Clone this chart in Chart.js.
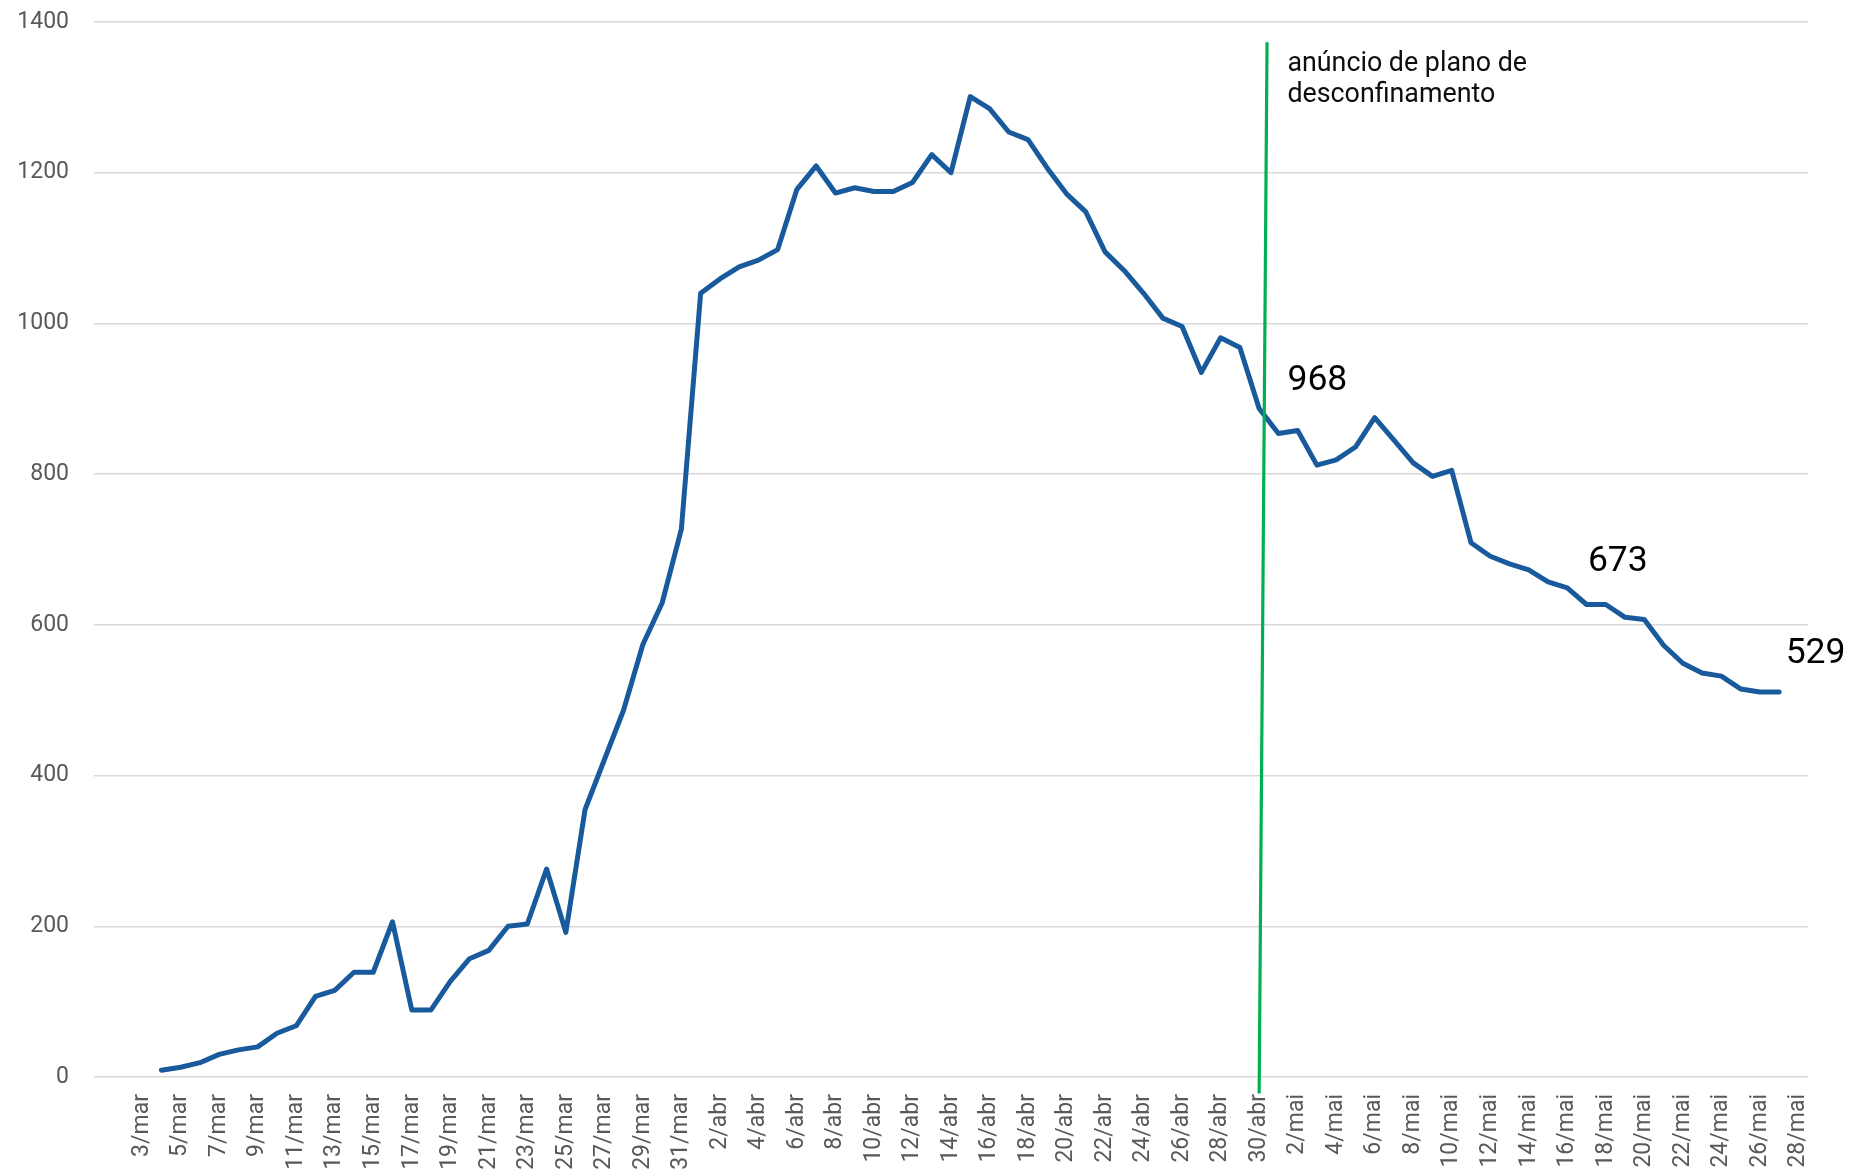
<!DOCTYPE html>
<html>
<head>
<meta charset="utf-8">
<script src="https://cdn.jsdelivr.net/npm/chart.js@4/dist/chart.umd.min.js"></script>
<style>
  html, body { margin: 0; padding: 0; background: #ffffff; }
  canvas { display: block; }
</style>
</head>
<body>
<canvas id="c" width="1855" height="1174"></canvas>
<script>
// Categories: one per day, 1/mar .. 28/mai
const dates = [
  '1/mar','2/mar','3/mar','4/mar','5/mar','6/mar','7/mar','8/mar','9/mar','10/mar',
  '11/mar','12/mar','13/mar','14/mar','15/mar','16/mar','17/mar','18/mar','19/mar','20/mar',
  '21/mar','22/mar','23/mar','24/mar','25/mar','26/mar','27/mar','28/mar','29/mar','30/mar','31/mar',
  '1/abr','2/abr','3/abr','4/abr','5/abr','6/abr','7/abr','8/abr','9/abr','10/abr',
  '11/abr','12/abr','13/abr','14/abr','15/abr','16/abr','17/abr','18/abr','19/abr','20/abr',
  '21/abr','22/abr','23/abr','24/abr','25/abr','26/abr','27/abr','28/abr','29/abr','30/abr',
  '1/mai','2/mai','3/mai','4/mai','5/mai','6/mai','7/mai','8/mai','9/mai','10/mai',
  '11/mai','12/mai','13/mai','14/mai','15/mai','16/mai','17/mai','18/mai','19/mai','20/mai',
  '21/mai','22/mai','23/mai','24/mai','25/mai','26/mai','27/mai','28/mai'
];

// Daily values; null = no value that day
const values = [
  null, null, null, 9, 13, 19, 30, 36, 40, 58,
  68, 107, 115, 139, 139, 206, 89, 89, 127, 157,
  168, 200, 203, 276, 192, 355, 421, 487, 574, 629, 727,
  1040, 1059, 1075, 1084, 1098, 1178, 1209, 1173, 1180, 1175,
  1175, 1187, 1224, 1200, 1301, 1285, 1254, 1244, 1206, 1172,
  1148, 1095, 1070, 1040, 1007, 996, 935, 981, 968, 887,
  854, 858, 812, 819, 836, 875, 845, 815, 797, 805,
  709, 691, 681, 673, 657, 649, 627, 627, 610, 607,
  573, 549, 536, 532, 515, 511, 511, null
];

// Y axis ticks
const yTicks = [0, 200, 400, 600, 800, 1000, 1200, 1400];

// Marker: announcement of the de-confinement plan
const markerDate = '30/abr';
const markerText = ['anúncio de plano de', 'desconfinamento'];

// Callout texts shown on the chart
const calloutTexts = ['968', '673', '529'];

// --- layout / style (positions in data space: category index, value) ---
const markerGeom = { bottomValue: -22, topValue: 1373, topShift: 0.41 };
const markerTextAnchor = { index: 61.47, values: [1335, 1294] };
const calloutAnchors = [
  { index: 61.47, value: 912 },
  { index: 77.07, value: 671 },
  { index: 87.34, value: 549 }
];

const FONT = 'Roboto, "Noto Sans", sans-serif';

const annotationPlugin = {
  id: 'annotations',
  afterDatasetsDraw(chart) {
    const ctx = chart.ctx;
    const xs = chart.scales.x, ys = chart.scales.y;
    const mi = dates.indexOf(markerDate);
    // green marker line
    ctx.save();
    ctx.strokeStyle = '#00b050';
    ctx.lineWidth = 3.2;
    ctx.beginPath();
    ctx.moveTo(xs.getPixelForValue(mi), ys.getPixelForValue(markerGeom.bottomValue));
    ctx.lineTo(xs.getPixelForValue(mi + markerGeom.topShift), ys.getPixelForValue(markerGeom.topValue));
    ctx.stroke();
    // marker text
    ctx.fillStyle = '#0d0d0d';
    ctx.font = '26.8px ' + FONT;
    ctx.textAlign = 'left';
    ctx.textBaseline = 'alphabetic';
    markerText.forEach((t, k) => {
      ctx.fillText(t, xs.getPixelForValue(markerTextAnchor.index), ys.getPixelForValue(markerTextAnchor.values[k]));
    });
    // callouts
    ctx.fillStyle = '#000000';
    ctx.font = '35.5px ' + FONT;
    calloutTexts.forEach((t, k) => {
      const a = calloutAnchors[k];
      ctx.fillText(t, xs.getPixelForValue(a.index), ys.getPixelForValue(a.value));
    });
    ctx.restore();
  }
};

new Chart(document.getElementById('c'), {
  type: 'line',
  data: {
    labels: dates,
    datasets: [{
      data: values,
      borderColor: '#185a9b',
      borderWidth: 5,
      borderJoinStyle: 'round',
      borderCapStyle: 'round',
      pointRadius: 0,
      pointHoverRadius: 0,
      tension: 0,
      fill: false
    }]
  },
  options: {
    responsive: false,
    animation: false,
    devicePixelRatio: 1,
    layout: { padding: { top: 22, right: 47, bottom: 0, left: 0 } },
    plugins: { legend: { display: false }, tooltip: { enabled: false } },
    scales: {
      x: {
        offset: true,
        grid: { display: false, drawTicks: false },
        border: { display: false },
        ticks: {
          autoSkip: false,
          minRotation: 90,
          maxRotation: 90,
          padding: 17,
          color: '#595959',
          font: { family: FONT, size: 23 },
          callback: function (value, index) {
            return (index % 2 === 0 && index > 0) ? this.getLabelForValue(value) : '';
          }
        },
        afterFit: (s) => { s.height = 97; }
      },
      y: {
        min: yTicks[0],
        max: yTicks[yTicks.length - 1],
        afterBuildTicks: (s) => { s.ticks = yTicks.map(v => ({ value: v })); },
        grid: { color: '#d9d9d9', lineWidth: 1.5, drawTicks: false },
        border: { display: false },
        ticks: {
          padding: 25,
          color: '#595959',
          font: { family: FONT, size: 23 },
          callback: (v) => String(v)
        },
        afterFit: (s) => { s.width = 94; s.paddingTop = 0; s.paddingBottom = 0; }
      }
    }
  },
  plugins: [annotationPlugin]
});
</script>
</body>
</html>
